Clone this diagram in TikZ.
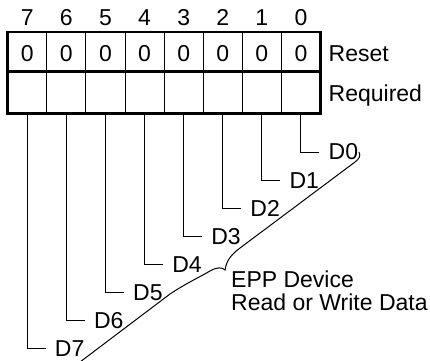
\documentclass[tikz,border=0pt]{standalone}
\usepackage{fontspec}
\setmainfont{Liberation Sans}
\usetikzlibrary{positioning}

\begin{document}
\begin{tikzpicture}[x=1pt,y=-1pt,font=\fontsize{23}{23.5}\selectfont,
  bit/.style={inner sep=0pt},
  lead/.style={black, line width=1pt}]
  \useasboundingbox (0,0) rectangle (430,360);
  % register cells
  \foreach \c in {1,...,7}
    \draw[line width=1pt] (7.7+39.1*\c,32) -- (7.7+39.1*\c,113.3);
  \draw[line width=2.8pt] (7.7,32) rectangle (320.5,113.3);
  \draw[line width=2.8pt] (7.7,71.7) -- (320.5,71.7);
  \node[bit, anchor=base west] (reset) at (328.5,61.7) {Reset};
  \node[bit, anchor=base west] (req) at (328.5,101.7) {Required};
  % bits and data lines
  \foreach \b in {0,...,7}{
    \pgfmathsetmacro{\cx}{27.25+39.1*(7-\b)}
    \pgfmathsetmacro{\dy}{152+28.1*\b}
    \node[bit, anchor=base] (h\b) at (\cx,25) {\b};
    \node[bit, anchor=base] (r\b) at (\cx,61.7) {0};
    \coordinate (b\b) at (\cx,113.3);
    \coordinate (e\b) at (\cx+18.5,\dy);
    \node[bit, right=9pt of e\b] (D\b) {D\b};
    \draw[lead] (b\b) |- (e\b);
  }
  % brace
  \coordinate (top) at (359,152);
  \coordinate (tip) at (225,270);
  \coordinate (low) at (80,362);
  \draw[lead] (top) .. controls (361,156) and (359,159) .. (355,162)
    -- (240,248) .. controls (229,256) and (226,263) .. (tip)
    .. controls (222,267) and (217,267) .. (210,271)
    .. controls (196,279) and (185,284) .. (170,294) -- (low);
  \node[bit, anchor=north west, align=left] (epp) at (231,270.2)
    {EPP Device\\Read or Write Data};
\end{tikzpicture}
\end{document}
